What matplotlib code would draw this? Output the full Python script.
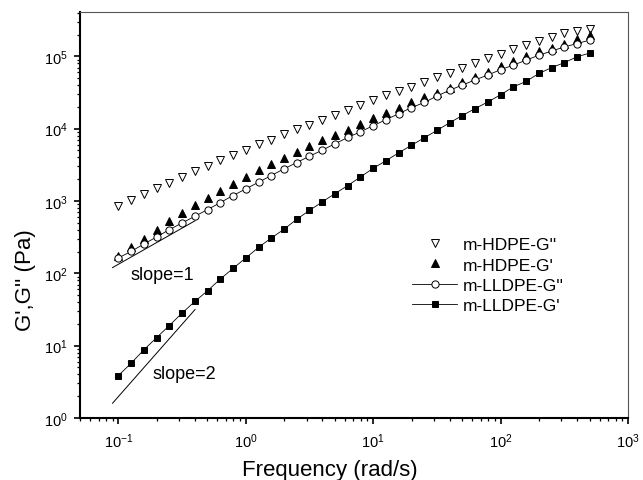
import matplotlib
matplotlib.use("Agg")
import matplotlib.pyplot as plt
from matplotlib.lines import Line2D

plt.rcParams['font.family'] = ['Liberation Sans', 'DejaVu Sans']
plt.rcParams['mathtext.fontset'] = 'custom'
plt.rcParams['mathtext.rm'] = 'Liberation Sans'
plt.rcParams['mathtext.it'] = 'Liberation Sans:italic'
plt.rcParams['mathtext.bf'] = 'Liberation Sans:bold'
plt.rcParams['mathtext.default'] = 'regular'

freq = [0.1, 0.1259, 0.1585, 0.1995, 0.2512, 0.3162, 0.3981, 0.5012, 0.631, 0.7943,
        1.0, 1.259, 1.585, 1.995, 2.512, 3.162, 3.981, 5.012, 6.31, 7.943,
        10.0, 12.59, 15.85, 19.95, 25.12, 31.62, 39.81, 50.12, 63.1, 79.43,
        100.0, 125.9, 158.5, 199.5, 251.2, 316.2, 398.1, 501.2]

hdpe_g2 = [845, 1020, 1250, 1500, 1800, 2150, 2580, 3090, 3630, 4300,
           5100, 6040, 7080, 8400, 9750, 11400, 13200, 15400, 18200, 21000,
           24800, 28800, 33500, 38000, 44600, 52000, 59000, 69000, 81000, 94000,
           109000, 125000, 144000, 164000, 187000, 207000, 222000, 238000]

hdpe_g1 = [171, 231, 300, 400, 524, 684, 873, 1100, 1390, 1720,
           2150, 2660, 3260, 3950, 4790, 5730, 6870, 8230, 9650, 11600,
           13900, 16400, 19200, 23000, 27000, 31400, 37000, 43500, 51000, 61000,
           74000, 86000, 101000, 117000, 132000, 150000, 172000, 198000]

lldpe_g2 = [163, 201, 254, 318, 402, 497, 614, 760, 950, 1190,
            1470, 1815, 2250, 2780, 3400, 4160, 5040, 6180, 7550, 9050,
            11000, 13300, 16100, 19500, 23000, 28200, 34000, 40000, 47300, 55000,
            65500, 75500, 88500, 103500, 118000, 135000, 150000, 168000]

lldpe_g1 = [3.85, 5.72, 8.75, 12.9, 19.0, 28.2, 40.8, 57.4, 83.4, 117,
            163, 228, 308, 406, 560, 740, 971, 1266, 1630, 2150,
            2830, 3600, 4640, 5880, 7470, 9440, 12070, 15200, 18970, 23400,
            29400, 37800, 45000, 57900, 69700, 81800, 98500, 111000]

labels = ["m-HDPE-G''", "m-HDPE-G'", "m-LLDPE-G''", "m-LLDPE-G'"]

slope1_x = [0.09, 0.40]
slope1_y = [120, 533]
slope2_x = [0.09, 0.40]
slope2_y = [1.6, 31.6]

fig = plt.figure(figsize=(6.43, 4.81), dpi=100)
ax = fig.add_axes([80/643, 1-419/481, 548/643, 406/481])

st_v = dict(linestyle='none', marker='v', ms=5.5, mfc='white', mec='black', mew=0.7)
st_t = dict(linestyle='none', marker='^', ms=5.5, mfc='black', mec='black', mew=0.7)
st_o = dict(linestyle='-', color='black', lw=0.6, marker='o', ms=5.2, mfc='white', mec='black', mew=0.7)
st_s = dict(linestyle='-', color='black', lw=0.6, marker='s', ms=4.3, mfc='black', mec='black', mew=0.7)

ax.plot(freq, hdpe_g2, **st_v)
ax.plot(freq, hdpe_g1, **st_t)
ax.plot(freq, lldpe_g2, **st_o)
ax.plot(freq, lldpe_g1, **st_s)

ax.plot(slope1_x, slope1_y, color='black', lw=0.7)
ax.plot(slope2_x, slope2_y, color='black', lw=0.7)
ax.text(0.124, 96, 'slope=1', fontsize=13, va='center', ha='left')
ax.text(0.187, 4.07, 'slope=2', fontsize=13, va='center', ha='left')

ax.set_xscale('log')
ax.set_yscale('log')
ax.set_xlim(0.05, 1000)
ax.set_ylim(1, 4.1e5)

for s in ['left', 'bottom']:
    ax.spines[s].set_linewidth(1.5)
    ax.spines[s].set_color('black')
for s in ['top', 'right']:
    ax.spines[s].set_linewidth(0.8)
    ax.spines[s].set_color('#555555')

ax.tick_params(which='major', direction='out', length=4, width=1.2, labelsize=10.5)
ax.tick_params(axis='x', which='major', pad=6)
ax.tick_params(axis='y', which='major', pad=5)
ax.tick_params(which='minor', direction='out', length=2.2, width=0.9)
ax.tick_params(top=False, right=False, which='both')

ax.set_xlabel('Frequency (rad/s)', fontsize=16)
ax.set_ylabel("G',G'' (Pa)", fontsize=16)
ax.xaxis.set_label_coords(0.456, -0.102)
ax.yaxis.set_label_coords(-0.080, 0.342)

handles = [Line2D([], [], **st_v), Line2D([], [], **st_t),
           Line2D([], [], **st_o), Line2D([], [], **st_s)]
fig.legend(handles, labels, loc='upper left', bbox_to_anchor=(412/643, 1-238/481),
           frameon=False, fontsize=12.5, handlelength=2.6, handletextpad=0.3,
           labelspacing=0.3, borderpad=0, borderaxespad=0)

fig.savefig('out.png', dpi=100)
